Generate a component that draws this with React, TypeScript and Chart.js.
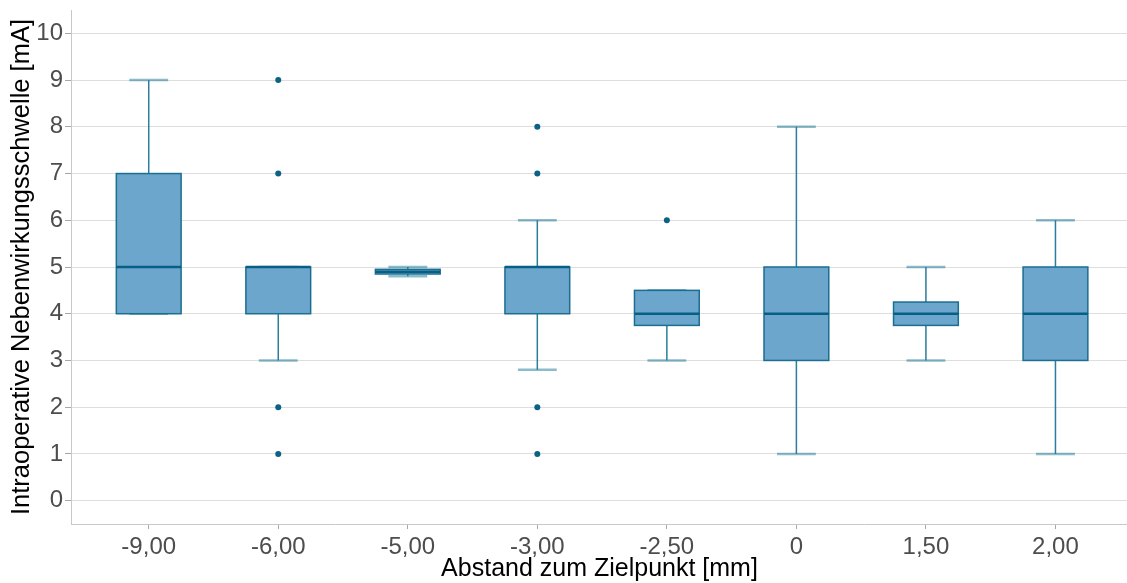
import React, { useEffect, useRef } from "react";
import { Chart, registerables } from "chart.js";

Chart.register(...registerables);

const categories = ["-9,00", "-6,00", "-5,00", "-3,00", "-2,50", "0", "1,50", "2,00"];
const whiskerLow = [4, 3, 4.8, 2.8, 3, 1, 3, 1];
const q1 = [4, 4, 4.85, 4, 3.75, 3, 3.75, 3];
const median = [5, 5, 4.9, 5, 4, 4, 4, 4];
const q3 = [7, 5, 4.95, 5, 4.5, 5, 4.25, 5];
const whiskerHigh = [9, 5, 5, 6, 4.5, 8, 5, 6];
const outlierCategory = [1, 1, 1, 1, 3, 3, 3, 3, 4];
const outlierValue = [9, 7, 2, 1, 8, 7, 2, 1, 6];
const yTicks = [0, 1, 2, 3, 4, 5, 6, 7, 8, 9, 10];

const FILL = "#6ca6cd";
const BORDER = "#1a6e90";
const MEDIAN = "#065f84";
const WHISKER = "#2a7d9c";
const CAP = "rgba(0,104,139,0.45)";
const POINT = "#0b6285";

const boxPlugin = {
  id: "boxes",
  beforeDatasetsDraw(chart: any) {
    const { ctx } = chart;
    const x = chart.scales.x;
    const y = chart.scales.y;
    ctx.save();
    categories.forEach((_, i) => {
      const cx = x.getPixelForValue(i);
      const halfW = x.getPixelForValue(i + 0.25) - cx;
      const capHalf = x.getPixelForValue(i + 0.15) - cx;
      const yLo = y.getPixelForValue(whiskerLow[i]);
      const yQ1 = y.getPixelForValue(q1[i]);
      const yMed = y.getPixelForValue(median[i]);
      const yQ3 = y.getPixelForValue(q3[i]);
      const yHi = y.getPixelForValue(whiskerHigh[i]);
      // caps
      ctx.strokeStyle = CAP;
      ctx.lineWidth = 2.5;
      ctx.beginPath();
      ctx.moveTo(cx - capHalf, yHi);
      ctx.lineTo(cx + capHalf, yHi);
      ctx.moveTo(cx - capHalf, yLo);
      ctx.lineTo(cx + capHalf, yLo);
      ctx.stroke();
      // whiskers
      ctx.strokeStyle = WHISKER;
      ctx.lineWidth = 1.5;
      ctx.beginPath();
      ctx.moveTo(cx, yQ3);
      ctx.lineTo(cx, yHi);
      ctx.moveTo(cx, yQ1);
      ctx.lineTo(cx, yLo);
      ctx.stroke();
      // box
      ctx.fillStyle = FILL;
      ctx.fillRect(cx - halfW, yQ3, 2 * halfW, yQ1 - yQ3);
      ctx.strokeStyle = BORDER;
      ctx.lineWidth = 1.5;
      ctx.strokeRect(cx - halfW, yQ3, 2 * halfW, yQ1 - yQ3);
      // median
      ctx.strokeStyle = MEDIAN;
      ctx.lineWidth = 2.5;
      ctx.beginPath();
      ctx.moveTo(cx - halfW, yMed);
      ctx.lineTo(cx + halfW, yMed);
      ctx.stroke();
    });
    ctx.restore();
  },
};

export default function App() {
  const ref = useRef<HTMLCanvasElement>(null);
  useEffect(() => {
    document.body.style.margin = "0";
    const canvas = ref.current!;
    const font = "'Liberation Sans', Arial, sans-serif";
    const chart = new Chart(canvas, {
      type: "scatter",
      data: {
        datasets: [
          {
            label: "Ausreißer",
            data: outlierCategory.map((c, i) => ({ x: c, y: outlierValue[i] })),
            backgroundColor: POINT,
            borderWidth: 0,
            pointRadius: 3,
          },
        ],
      },
      options: {
        responsive: false,
        animation: false,
        layout: { padding: { top: 10, right: 0, left: 1, bottom: 0 } },
        plugins: { legend: { display: false }, tooltip: { enabled: false } },
        scales: {
          x: {
            type: "linear",
            min: -0.6,
            max: 7.56,
            afterBuildTicks: (s: any) => {
              s.ticks = categories.map((_, i) => ({ value: i }));
            },
            afterFit: (s: any) => {
              s.height = 59;
              s.paddingLeft = 0;
              s.paddingRight = 0;
            },
            ticks: {
              callback: (v: any) => categories[v as number] ?? "",
              font: { family: font, size: 24 },
              color: "#4d4d4d",
              padding: 4,
              maxRotation: 0,
              autoSkip: false,
            },
            grid: {
              drawOnChartArea: false,
              drawTicks: true,
              tickLength: 5,
              tickColor: "#a8a8a8",
            },
            border: { color: "#c8c8c8", width: 1 },
            title: {
              display: true,
              text: "Abstand zum Zielpunkt [mm]",
              font: { family: font, size: 25 },
              color: "#000000",
              padding: { top: 0, bottom: -1 },
            },
          },
          y: {
            type: "linear",
            min: -0.5,
            max: 10.5,
            afterBuildTicks: (s: any) => {
              s.ticks = yTicks.map((v) => ({ value: v }));
            },
            afterFit: (s: any) => {
              s.width = 70;
              s.paddingTop = 0;
              s.paddingBottom = 0;
            },
            ticks: {
              font: { family: font, size: 24 },
              color: "#4d4d4d",
              padding: 2,
            },
            grid: {
              color: "#dedede",
              lineWidth: 1,
              tickLength: 6,
              tickColor: "#a8a8a8",
            },
            border: { color: "#c8c8c8", width: 1 },
            title: {
              display: true,
              text: "Intraoperative Nebenwirkungsschwelle [mA]",
              font: { family: font, size: 25.5 },
              color: "#000000",
              padding: { top: 6, bottom: 0 },
            },
          },
        },
      },
      plugins: [boxPlugin],
    });
    return () => chart.destroy();
  }, []);
  return (
    <div style={{ width: 1127, height: 583, overflow: "hidden" }}>
      <canvas ref={ref} width={1132} height={583} style={{ display: "block" }} />
    </div>
  );
}
